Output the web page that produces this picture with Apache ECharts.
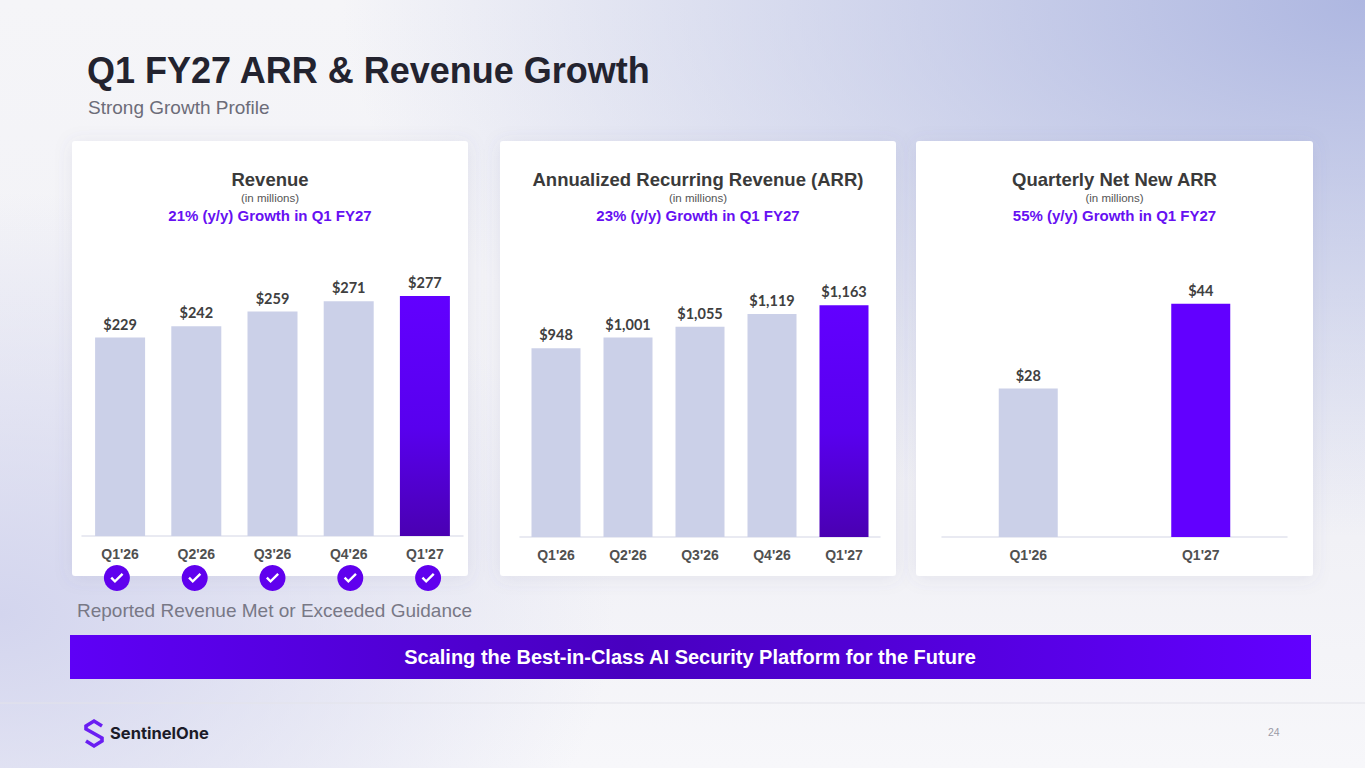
<!DOCTYPE html>
<html>
<head>
<meta charset="utf-8">
<script src="https://cdn.jsdelivr.net/npm/echarts@6/dist/echarts.min.js"></script>
<style>
  html, body { margin: 0; padding: 0; width: 1365px; height: 768px; overflow: hidden; }
  body {
    background:
      radial-gradient(ellipse 75% 70% at 100% 0%, #aeb7e1 0%, rgba(174,183,225,0.55) 45%, rgba(174,183,225,0) 100%),
      radial-gradient(ellipse 45% 55% at 0% 80%, #d3d5ee 0%, rgba(211,213,238,0) 100%),
      linear-gradient(180deg, #f5f5f8 0%, #f1f1f6 70%, #f7f7fa 100%);
  }
  #main { width: 1365px; height: 768px; }
</style>
</head>
<body>
<div id="main"></div>
<script>
// ========== 数据 ==========
const quarters = ["Q1'26", "Q2'26", "Q3'26", "Q4'26", "Q1'27"];
const revenue = [229, 242, 259, 271, 277];
const arr = [948, 1001, 1055, 1119, 1163];
const netNewQuarters = ["Q1'26", "Q1'27"];
const netNewArr = [28, 44];
const guidanceMet = [1, 1, 1, 1, 1];

const LIGHT = '#cbd0e8';
const PURPLE = '#6200ff';
const GROWTH = '#6610f2';
const fontArial = 'Liberation Sans, Arial, sans-serif';

const purpleGrad = new echarts.graphic.LinearGradient(0, 0, 0, 1, [
    { offset: 0, color: '#6200ff' },
    { offset: 0.55, color: '#5800ee' },
    { offset: 1, color: '#4a00b2' }
]);

// 最后一根柱子高亮
const barData = (vals, lastColor) => vals.map((v, i) =>
    i === vals.length - 1 ? { value: v, itemStyle: { color: lastColor } } : v);

const labelStyle = {
    show: true,
    position: 'top',
    distance: 6,
    fontFamily: 'Lato, sans-serif',
    fontWeight: 'bold',
    fontSize: 14.5,
    color: '#404040',
    formatter: p => '$' + p.value.toLocaleString('en-US')
};

const catAxis = (gridIndex, data) => ({
    type: 'category',
    gridIndex: gridIndex,
    data: data,
    axisTick: { show: false },
    axisLine: { show: true, lineStyle: { color: '#e2e3ee', width: 1.5 } },
    axisLabel: { margin: 11, fontFamily: fontArial, fontWeight: 'bold', fontSize: 14, color: '#505050' }
});

const valAxis = (gridIndex, max) => ({
    type: 'value', gridIndex: gridIndex, min: 0, max: max, show: false
});

// ========== 面板与文字 ==========
function panel(x, w) {
    return {
        type: 'rect',
        shape: { x: x, y: 141, width: w, height: 435, r: 3 },
        style: { fill: '#ffffff', shadowBlur: 18, shadowColor: 'rgba(90,95,140,0.10)', shadowOffsetY: 2 },
        z: -10
    };
}

function panelTitles(cx, title, growth) {
    return [
        { type: 'text', x: cx, y: 179, style: { text: title, fill: '#3a3a3a', fontFamily: fontArial, fontWeight: 'bold', fontSize: 18.5, align: 'center', verticalAlign: 'middle' } },
        { type: 'text', x: cx, y: 198, style: { text: '(in millions)', fill: '#555555', fontFamily: fontArial, fontSize: 11.5, align: 'center', verticalAlign: 'middle' } },
        { type: 'text', x: cx, y: 215, style: { text: growth, fill: GROWTH, fontFamily: fontArial, fontWeight: 'bold', fontSize: 15, align: 'center', verticalAlign: 'middle' } }
    ];
}

const graphics = [
    { type: 'text', x: 87, y: 70, style: { text: 'Q1 FY27 ARR & Revenue Growth', fill: '#23232f', fontFamily: fontArial, fontWeight: 'bold', fontSize: 36, verticalAlign: 'middle' } },
    { type: 'text', x: 88, y: 107, style: { text: 'Strong Growth Profile', fill: '#6c6c78', fontFamily: fontArial, fontSize: 19, verticalAlign: 'middle' } },
    panel(72, 396),
    panel(500, 396),
    panel(916, 397),
    ...panelTitles(270, 'Revenue', '21% (y/y) Growth in Q1 FY27'),
    ...panelTitles(698, 'Annualized Recurring Revenue (ARR)', '23% (y/y) Growth in Q1 FY27'),
    ...panelTitles(1114.5, 'Quarterly Net New ARR', '55% (y/y) Growth in Q1 FY27'),
    { type: 'text', x: 77, y: 610, style: { text: 'Reported Revenue Met or Exceeded Guidance', fill: '#787886', fontFamily: fontArial, fontSize: 19, verticalAlign: 'middle' } },
    {
        type: 'rect',
        shape: { x: 70, y: 635, width: 1241, height: 44 },
        style: {
            fill: new echarts.graphic.LinearGradient(0, 0, 1, 0, [
                { offset: 0, color: '#5e00f6' },
                { offset: 0.45, color: '#4800bf' },
                { offset: 1, color: '#6200ff' }
            ])
        }
    },
    { type: 'text', x: 690, y: 657, style: { text: 'Scaling the Best-in-Class AI Security Platform for the Future', fill: '#ffffff', fontFamily: fontArial, fontWeight: 'bold', fontSize: 20, align: 'center', verticalAlign: 'middle' } },
    { type: 'line', shape: { x1: 0, y1: 703, x2: 1365, y2: 703 }, style: { stroke: '#e3e3ea', lineWidth: 1 } },
    // SentinelOne logo
    {
        type: 'polyline',
        shape: { points: [[102, 726], [94, 721], [86, 726], [86, 729], [102, 738], [102, 741], [94, 746], [86, 741]] },
        style: { stroke: '#6a1ef2', lineWidth: 3.6, fill: null, lineJoin: 'miter' }
    },
    { type: 'text', x: 110, y: 733, style: { text: 'SentinelOne', fill: '#1b1b28', fontFamily: 'Inter, sans-serif', fontWeight: 'bold', fontSize: 16.5, verticalAlign: 'middle' } },
    { type: 'text', x: 1268, y: 732, style: { text: '24', fill: '#9a9aa6', fontFamily: fontArial, fontSize: 10.5, verticalAlign: 'middle' } }
];

// ========== 图表 ==========
const chart = echarts.init(document.getElementById('main'), null, { renderer: 'svg' });

chart.setOption({
    animation: false,
    backgroundColor: 'transparent',
    graphic: graphics,
    grid: [
        { left: 82, top: 276, width: 381, height: 260 },
        { left: 520, top: 278, width: 360, height: 259 },
        { left: 942, top: 272, width: 345, height: 265 },
        { left: 78, top: 565, width: 389, height: 26 }
    ],
    xAxis: [
        catAxis(0, quarters),
        catAxis(1, quarters),
        catAxis(2, netNewQuarters),
        { type: 'category', gridIndex: 3, data: quarters, show: false }
    ],
    yAxis: [
        valAxis(0, 300),
        valAxis(1, 1300),
        valAxis(2, 50),
        { type: 'value', gridIndex: 3, min: -1, max: 1, show: false }
    ],
    series: [
        {
            type: 'bar', xAxisIndex: 0, yAxisIndex: 0, barWidth: 50,
            itemStyle: { color: LIGHT },
            label: labelStyle,
            data: barData(revenue, purpleGrad)
        },
        {
            type: 'bar', xAxisIndex: 1, yAxisIndex: 1, barWidth: 49,
            itemStyle: { color: LIGHT },
            label: labelStyle,
            data: barData(arr, purpleGrad)
        },
        {
            type: 'bar', xAxisIndex: 2, yAxisIndex: 2, barWidth: 59,
            itemStyle: { color: LIGHT },
            label: labelStyle,
            data: barData(netNewArr, PURPLE)
        },
        {
            type: 'scatter', xAxisIndex: 3, yAxisIndex: 3,
            symbol: 'circle', symbolSize: 26,
            itemStyle: { color: '#6000ee', opacity: 1 },
            data: guidanceMet.map(() => 0)
        },
        {
            type: 'scatter', xAxisIndex: 3, yAxisIndex: 3,
            symbol: 'path://M0,9 L2.6,6.4 L7,10.8 L17.4,0.4 L20,3 L7,16 Z',
            symbolSize: [13, 10],
            itemStyle: { color: '#ffffff', opacity: 1 },
            z: 5,
            data: guidanceMet.map(() => 0)
        }
    ]
});
</script>
</body>
</html>
